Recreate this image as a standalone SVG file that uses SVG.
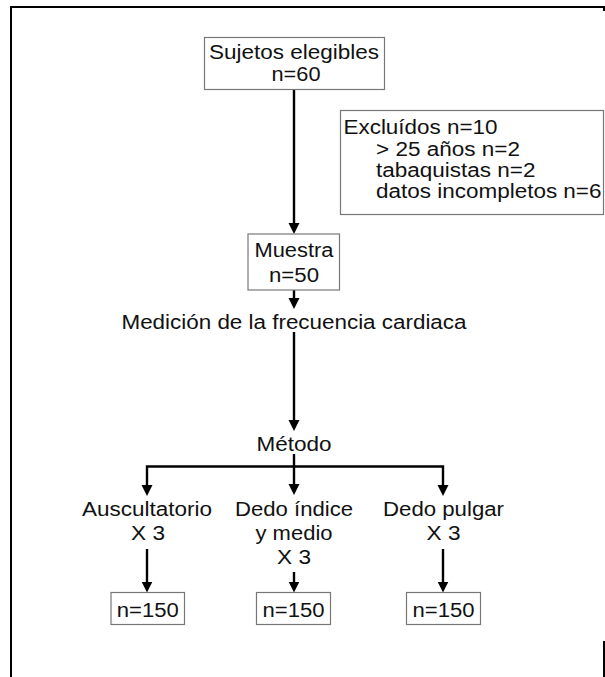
<svg xmlns="http://www.w3.org/2000/svg" width="605" height="677" viewBox="0 0 605 677">
<defs>
<style>
text{font-family:"Liberation Sans",Arial,Helvetica,sans-serif;font-size:19.5px;fill:#111}
.c{text-anchor:middle}
.box{fill:#fff;stroke:#777;stroke-width:1.2}
.frame{fill:none;stroke:#000;stroke-width:2}
.arr{fill:none;stroke:#000;stroke-width:2.4;stroke-linejoin:miter}
</style>
<marker id="ah" markerUnits="userSpaceOnUse" markerWidth="13" markerHeight="12" refX="1" refY="5.5" orient="auto">
<path d="M0,0 L11,5.5 L0,11 z" fill="#000"/>
</marker>
</defs>
<rect width="605" height="677" fill="#fff"/>
<g id="frame">
<path class="frame" d="M11,677 V7 H604 V11"/>
<path class="frame" d="M604,641 V677"/>
</g>
<g id="connectors">
<path class="arr" d="M294,89.5 V224" marker-end="url(#ah)"/>
<path class="arr" d="M294,290 V299" marker-end="url(#ah)"/>
<path class="arr" d="M294,332 V421" marker-end="url(#ah)"/>
<path class="arr" d="M294,454 V485" marker-end="url(#ah)"/>
<path class="arr" d="M294,466.5 H147 V486" marker-end="url(#ah)"/>
<path class="arr" d="M294,466.5 H443 V486" marker-end="url(#ah)"/>
<path class="arr" d="M147,549 V582.5" marker-end="url(#ah)"/>
<path class="arr" d="M294,572 V582.5" marker-end="url(#ah)"/>
<path class="arr" d="M443,549 V582.5" marker-end="url(#ah)"/>
</g>
<g id="sujetos">
<rect class="box" x="204.5" y="37.5" width="180" height="52"/>
<text class="c" x="294" y="58.5" textLength="170" lengthAdjust="spacingAndGlyphs">Sujetos elegibles</text>
<text class="c" x="296" y="81" textLength="49" lengthAdjust="spacingAndGlyphs">n=60</text>
</g>
<g id="excluidos">
<rect class="box" x="340.5" y="110.5" width="263" height="104"/>
<text x="343.5" y="133.5" textLength="154" lengthAdjust="spacingAndGlyphs">Excluídos n=10</text>
<text x="376" y="155.5" textLength="144" lengthAdjust="spacingAndGlyphs">&gt; 25 años n=2</text>
<text x="376" y="177" textLength="159.5" lengthAdjust="spacingAndGlyphs">tabaquistas n=2</text>
<text x="376" y="198" textLength="225.5" lengthAdjust="spacingAndGlyphs">datos incompletos n=6</text>
</g>
<g id="muestra">
<rect class="box" x="248" y="234" width="91.5" height="56"/>
<text class="c" x="294" y="257" textLength="79" lengthAdjust="spacingAndGlyphs">Muestra</text>
<text class="c" x="294" y="282" textLength="50" lengthAdjust="spacingAndGlyphs">n=50</text>
</g>
<g id="medicion">
<text class="c" x="294" y="329" textLength="345" lengthAdjust="spacingAndGlyphs">Medición de la frecuencia cardiaca</text>
</g>
<g id="metodo">
<text class="c" x="294" y="450.5" textLength="75" lengthAdjust="spacingAndGlyphs">Método</text>
</g>
<g id="auscultatorio">
<text class="c" x="147" y="515.5" textLength="130" lengthAdjust="spacingAndGlyphs">Auscultatorio</text>
<text class="c" x="148" y="540" textLength="34" lengthAdjust="spacingAndGlyphs">X 3</text>
</g>
<g id="dedo-indice">
<text class="c" x="294" y="515.5" textLength="118" lengthAdjust="spacingAndGlyphs">Dedo índice</text>
<text class="c" x="294" y="540" textLength="77" lengthAdjust="spacingAndGlyphs">y medio</text>
<text class="c" x="294" y="564" textLength="34" lengthAdjust="spacingAndGlyphs">X 3</text>
</g>
<g id="dedo-pulgar">
<text class="c" x="443.5" y="515.5" textLength="121" lengthAdjust="spacingAndGlyphs">Dedo pulgar</text>
<text class="c" x="443.5" y="540" textLength="34" lengthAdjust="spacingAndGlyphs">X 3</text>
</g>
<g id="n150-a">
<rect class="box" x="111" y="592.5" width="73.5" height="32"/>
<text class="c" x="147.8" y="616.5" textLength="62" lengthAdjust="spacingAndGlyphs">n=150</text>
</g>
<g id="n150-b">
<rect class="box" x="256.5" y="592.5" width="74" height="32"/>
<text class="c" x="293.5" y="616.5" textLength="62" lengthAdjust="spacingAndGlyphs">n=150</text>
</g>
<g id="n150-c">
<rect class="box" x="406.5" y="592.5" width="74" height="32"/>
<text class="c" x="443.5" y="616.5" textLength="62" lengthAdjust="spacingAndGlyphs">n=150</text>
</g>
</svg>
